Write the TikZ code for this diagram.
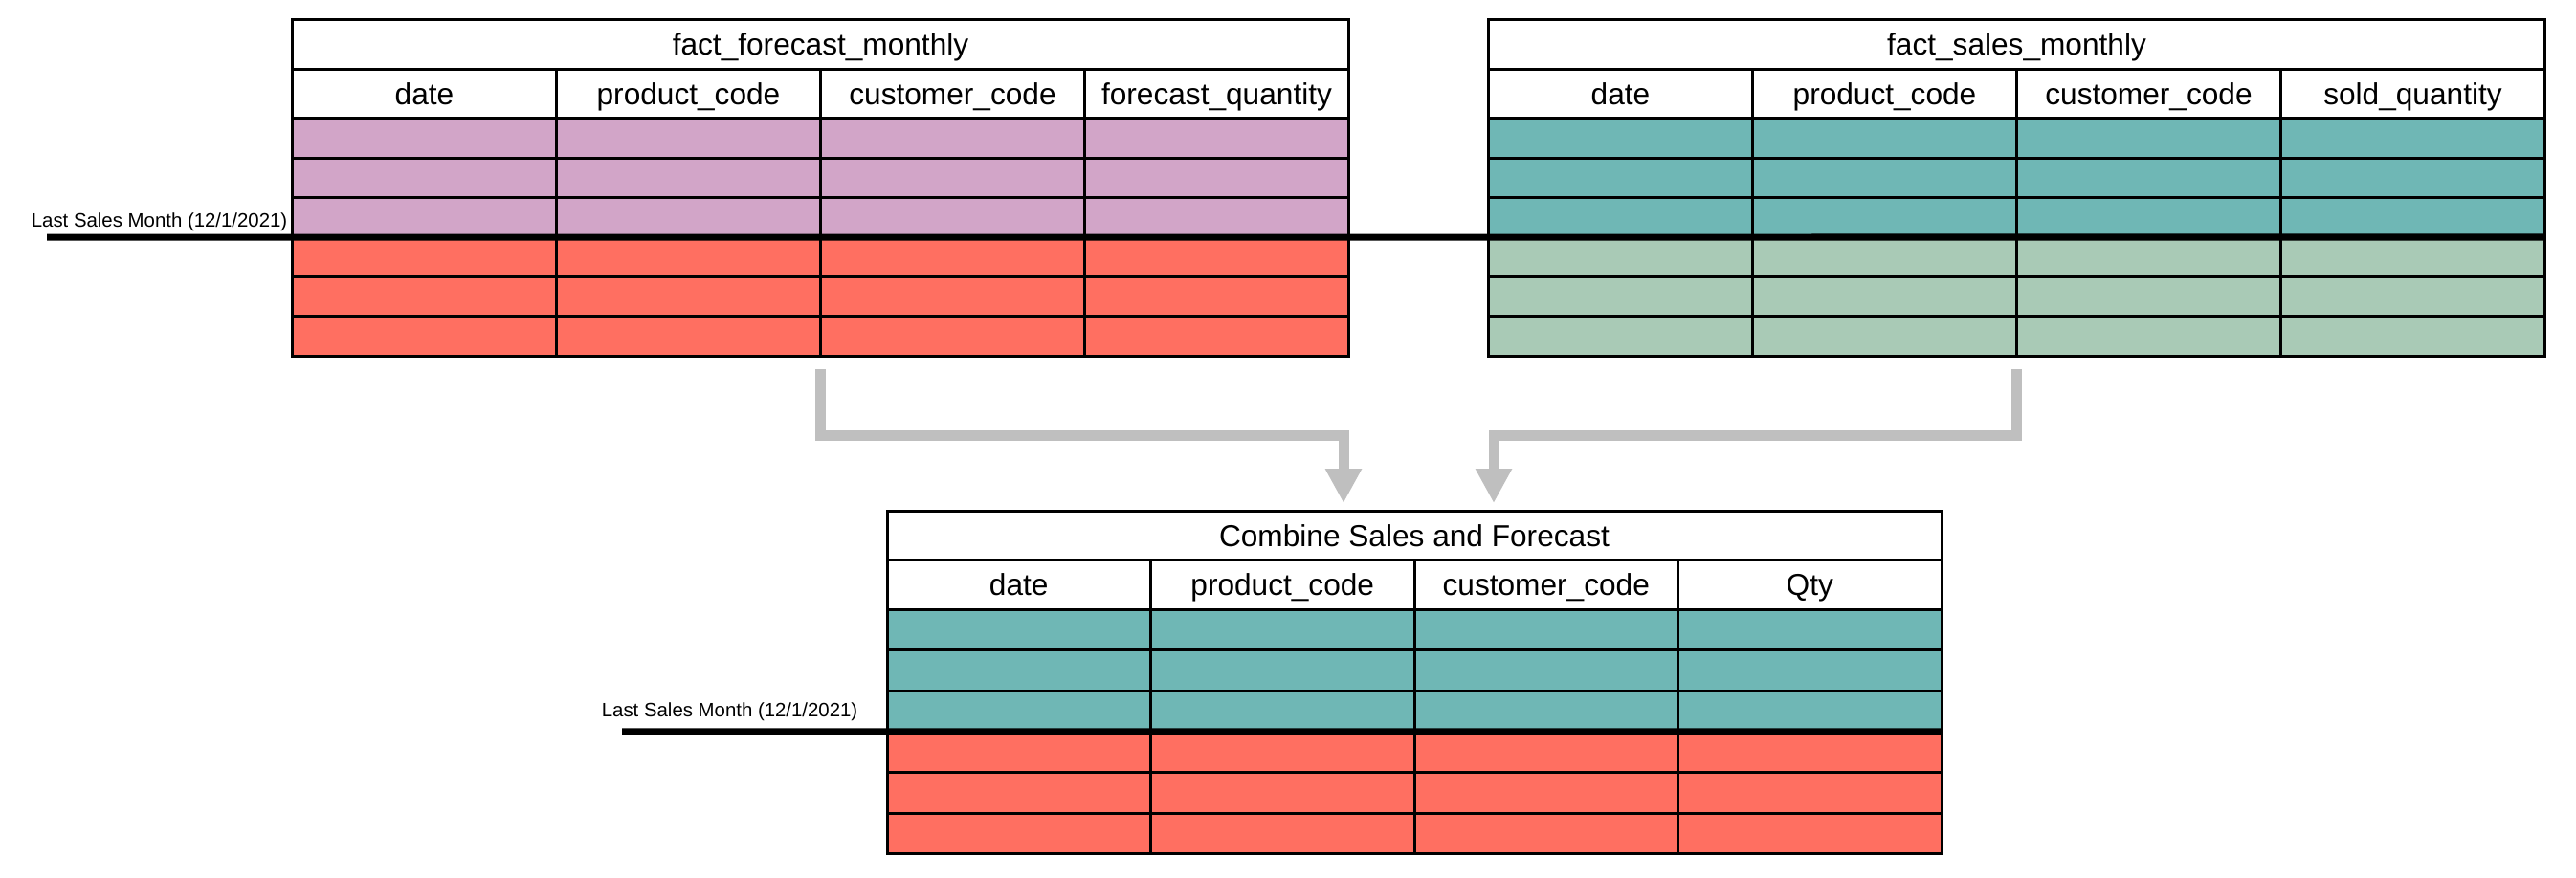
\documentclass[tikz,border=0pt]{standalone}
\usepackage{fontspec}
\setmainfont{Liberation Sans}
\usetikzlibrary{arrows.meta,positioning,calc}

\definecolor{fcpink}{HTML}{D2A5C8}
\definecolor{fcred}{HTML}{FF6F61}
\definecolor{smteal}{HTML}{6FB7B5}
\definecolor{smgreen}{HTML}{A9CAB6}
\definecolor{flowgray}{HTML}{BFBFBF}

\tikzset{
  cell/.style={draw,line width=0.03cm,inner sep=0pt,outer sep=0pt,
    minimum width=2.76cm,minimum height=0.415cm,anchor=north west},
  headcell/.style={cell,minimum height=0.515cm,font=\fontsize{9}{11}\selectfont,
    text height=8.4pt,text depth=1.9pt},
  titlecell/.style={headcell,minimum width=11.04cm},
  cutline/.style={line width=0.07cm},
  cutlabel/.style={font=\fontsize{5.8}{7}\selectfont,anchor=base east,inner sep=0pt},
  flow/.style={line width=0.11cm,draw=flowgray,
    -{Triangle[width=0.36cm,length=0.36cm,fill=flowgray]}}
}

\begin{document}
\begin{tikzpicture}
  \useasboundingbox (0,0) rectangle (26.92,-9.18);

  % fact_forecast_monthly
  \node[titlecell] (fc-title) at (3.055,-0.205) {fact\_forecast\_monthly};
  \foreach \c/\txt in {1/date,2/product\_code,3/customer\_code,4/forecast\_quantity}
    \node[headcell] (fc-h\c) at ({3.055+2.76*(\c-1)},-0.72) {\txt};
  \foreach \r in {1,2,3}
    \foreach \c in {1,...,4}
      \node[cell,fill=fcpink] (fc-\r-\c) at ({3.055+2.76*(\c-1)},{-1.235-0.415*(\r-1)}) {};
  \foreach \r in {4,5,6}
    \foreach \c in {1,...,4}
      \node[cell,fill=fcred] (fc-\r-\c) at ({3.055+2.76*(\c-1)},{-1.235-0.415*(\r-1)}) {};

  % fact_sales_monthly
  \node[titlecell] (sm-title) at (15.555,-0.205) {fact\_sales\_monthly};
  \foreach \c/\txt in {1/date,2/product\_code,3/customer\_code,4/sold\_quantity}
    \node[headcell] (sm-h\c) at ({15.555+2.76*(\c-1)},-0.72) {\txt};
  \foreach \r in {1,2,3}
    \foreach \c in {1,...,4}
      \node[cell,fill=smteal] (sm-\r-\c) at ({15.555+2.76*(\c-1)},{-1.235-0.415*(\r-1)}) {};
  \foreach \r in {4,5,6}
    \foreach \c in {1,...,4}
      \node[cell,fill=smgreen] (sm-\r-\c) at ({15.555+2.76*(\c-1)},{-1.235-0.415*(\r-1)}) {};

  % last sales month, top
  \coordinate (top-cut) at (0.49,-2.48);
  \draw[cutline] (top-cut) -- (sm-3-4.south east);
  \node[cutlabel] (top-cut-lbl) at (3.01,-2.37) {Last Sales Month (12/1/2021)};

  % Combine Sales and Forecast
  \node[titlecell,minimum width=11.02cm] (cb-title) at (9.27,-5.34) {Combine Sales and Forecast};
  \foreach \c/\txt in {1/date,2/product\_code,3/customer\_code,4/Qty}
    \node[headcell,minimum width=2.755cm] (cb-h\c) at ({9.27+2.755*(\c-1)},-5.855) {\txt};
  \foreach \r in {1,2,3}
    \foreach \c in {1,...,4}
      \node[cell,fill=smteal,minimum width=2.755cm,minimum height=0.426cm] (cb-\r-\c)
        at ({9.27+2.755*(\c-1)},{-6.37-0.426*(\r-1)}) {};
  \foreach \r in {4,5,6}
    \foreach \c in {1,...,4}
      \node[cell,fill=fcred,minimum width=2.755cm,minimum height=0.426cm] (cb-\r-\c)
        at ({9.27+2.755*(\c-1)},{-6.37-0.426*(\r-1)}) {};

  % last sales month, bottom
  \coordinate (cb-cut) at (6.5,-7.648);
  \draw[cutline] (cb-cut) -- (cb-3-4.south east);
  \node[cutlabel] (cb-cut-lbl) at (8.97,-7.49) {Last Sales Month (12/1/2021)};

  % arrows
  \coordinate (fc-out) at ($(fc-6-2.south east)+(0,-0.14)$);
  \coordinate (sm-out) at ($(sm-6-2.south east)+(0,-0.14)$);
  \coordinate (fc-in) at ($(cb-title.north)+(-0.74,0.08)$);
  \coordinate (sm-in) at ($(cb-title.north)+(0.83,0.08)$);
  \draw[flow] (fc-out) -- ++(0,-0.69) -| (fc-in);
  \draw[flow] (sm-out) -- ++(0,-0.69) -| (sm-in);
\end{tikzpicture}
\end{document}
